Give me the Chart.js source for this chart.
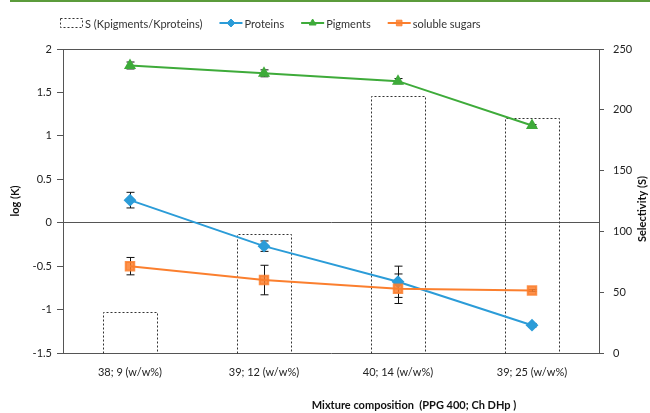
<!DOCTYPE html>
<html>
<head>
<meta charset="utf-8">
<script src="https://cdn.jsdelivr.net/npm/chart.js@4.4.1/dist/chart.umd.min.js"></script>
<style>
  html, body { margin: 0; padding: 0; background: #fff; }
  #wrap { position: relative; width: 650px; height: 413px; }
  #topline { position: absolute; left: 10px; top: 0; width: 640px; height: 2px; background: #5b9b3b; }
</style>
</head>
<body>
<div id="wrap">
  <div id="topline"></div>
  <canvas id="chart" width="650" height="413"></canvas>
</div>
<script>
const categories = ['38; 9 (w/w%)', '39; 12 (w/w%)', '40; 14 (w/w%)', '39; 25 (w/w%)'];

const selectivity = [34, 98, 211, 193];

const proteins = [0.26, -0.27, -0.68, -1.18];
const proteinsErr = [0.09, 0.06, 0.18, 0.02];

const pigments = [1.81, 1.72, 1.63, 1.12];
const pigmentsErr = [0.04, 0.04, 0.03, 0.01];

const sugars = [-0.5, -0.66, -0.76, -0.78];
const sugarsErr = [0.1, 0.17, 0.17, 0.01];

const logTicks = [2, 1.5, 1, 0.5, 0, -0.5, -1, -1.5];
const selTicks = [0, 50, 100, 150, 200, 250];

const FONT = 'Lato, "Open Sans", sans-serif';
const AXIS = '#555';
const BLUE = '#2b9cd8';
const GREEN = '#3eab3a';
const ORANGE = '#fb7f2e';

const errors = [null, proteinsErr, pigmentsErr, sugarsErr];

// error bars drawn before the lines so the markers sit on top
const errorBars = {
  id: 'errorBars',
  beforeDatasetsDraw(chart) {
    const ctx = chart.ctx;
    const y = chart.scales.y;
    ctx.save();
    ctx.strokeStyle = '#111';
    ctx.lineWidth = 1;
    chart.data.datasets.forEach((ds, di) => {
      const err = errors[di];
      if (!err) return;
      const meta = chart.getDatasetMeta(di);
      meta.data.forEach((pt, i) => {
        const x = Math.round(pt.x) + 0.5;
        const top = y.getPixelForValue(ds.data[i] + err[i]);
        const bot = y.getPixelForValue(ds.data[i] - err[i]);
        ctx.beginPath();
        ctx.moveTo(x, top); ctx.lineTo(x, bot);
        ctx.moveTo(x - 4, top); ctx.lineTo(x + 4, top);
        ctx.moveTo(x - 4, bot); ctx.lineTo(x + 4, bot);
        ctx.stroke();
      });
    });
    ctx.restore();
  }
};

// dashed outline for the selectivity bars, plus the frame, titles and legend
const decorations = {
  id: 'decorations',
  afterDatasetDraw(chart, args) {
    if (args.index !== 0) return;
    const ctx = chart.ctx;
    ctx.save();
    ctx.strokeStyle = '#333';
    ctx.lineWidth = 1;
    ctx.setLineDash([2, 2]);
    args.meta.data.forEach(bar => {
      const l = Math.round(bar.x - bar.width / 2) + 0.5;
      const r = Math.round(bar.x + bar.width / 2) + 0.5;
      const t = Math.round(bar.y) + 0.5;
      const b = Math.round(bar.base) + 0.5;
      ctx.beginPath();
      ctx.moveTo(l, b); ctx.lineTo(l, t); ctx.lineTo(r, t); ctx.lineTo(r, b);
      ctx.stroke();
    });
    ctx.restore();
  },
  afterDraw(chart) {
    const ctx = chart.ctx;
    const a = chart.chartArea;
    ctx.save();
    ctx.strokeStyle = AXIS;
    ctx.lineWidth = 1;
    ctx.beginPath();
    ctx.moveTo(a.left, Math.round(a.top) + 0.5);
    ctx.lineTo(a.right, Math.round(a.top) + 0.5);
    ctx.stroke();

    ctx.fillStyle = '#111';
    ctx.font = 'bold 11px ' + FONT;
    ctx.textAlign = 'center';
    ctx.textBaseline = 'middle';
    ctx.save();
    ctx.translate(15, (a.top + a.bottom) / 2);
    ctx.rotate(-Math.PI / 2);
    ctx.fillText('log (K)', 0, 0);
    ctx.restore();
    ctx.save();
    ctx.translate(642, (a.top + a.bottom) / 2 + 8);
    ctx.rotate(-Math.PI / 2);
    ctx.fillText('Selectivity (S)', 0, 0);
    ctx.restore();
    ctx.fillText('Mixture composition  (PPG 400; Ch DHp )', 414, 405);

    // legend
    ctx.font = '11px ' + FONT;
    ctx.textAlign = 'left';
    ctx.fillStyle = '#333';
    const ly = 23;
    let x = 60;
    chart.data.datasets.forEach((ds, di) => {
      ctx.save();
      if (di === 0) {
        ctx.strokeStyle = '#333';
        ctx.setLineDash([2, 2]);
        ctx.strokeRect(x + 0.5, ly - 4.5, 22, 9);
      } else {
        ctx.strokeStyle = ds.borderColor;
        ctx.lineWidth = 2;
        ctx.beginPath();
        ctx.moveTo(x, ly); ctx.lineTo(x + 23, ly);
        ctx.stroke();
        ctx.fillStyle = ds.pointBackgroundColor;
        ctx.strokeStyle = ds.pointBackgroundColor;
        ctx.lineWidth = 1;
        Chart.helpers.drawPoint(ctx, { pointStyle: ds.pointStyle, radius: 4, borderWidth: 1 }, x + 11.5, ly);
      }
      ctx.restore();
      ctx.fillText(ds.label, x + 25, ly + 1);
      x += 25 + ctx.measureText(ds.label).width + 17;
    });
    ctx.restore();
  }
};

new Chart(document.getElementById('chart'), {
  type: 'bar',
  data: {
    labels: categories,
    datasets: [
      {
        label: 'S (Kpigments/Kproteins)',
        data: selectivity,
        yAxisID: 'y2',
        backgroundColor: 'rgba(0,0,0,0)',
        borderWidth: 0,
        categoryPercentage: 1,
        barPercentage: 0.4,
        order: 10
      },
      {
        type: 'line',
        label: 'Proteins',
        data: proteins,
        yAxisID: 'y',
        borderColor: BLUE,
        backgroundColor: BLUE,
        pointBackgroundColor: BLUE,
        pointBorderColor: BLUE,
        pointStyle: 'rectRot',
        pointRadius: 5,
        borderWidth: 2,
        order: 3
      },
      {
        type: 'line',
        label: 'Pigments',
        data: pigments,
        yAxisID: 'y',
        borderColor: GREEN,
        backgroundColor: GREEN,
        pointBackgroundColor: GREEN,
        pointBorderColor: GREEN,
        pointStyle: 'triangle',
        pointRadius: 5,
        borderWidth: 2,
        order: 2
      },
      {
        type: 'line',
        label: 'soluble sugars',
        data: sugars,
        yAxisID: 'y',
        borderColor: ORANGE,
        backgroundColor: ORANGE,
        pointBackgroundColor: 'rgba(251,127,46,0.85)',
        pointBorderColor: 'rgba(251,127,46,0.85)',
        pointStyle: 'rect',
        pointRadius: 6,
        borderWidth: 2,
        order: 1
      }
    ]
  },
  options: {
    responsive: false,
    animation: false,
    layout: { padding: { top: 49, left: 0, right: 0, bottom: 0 } },
    plugins: {
      legend: { display: false },
      tooltip: { enabled: false }
    },
    scales: {
      x: {
        offset: true,
        grid: { display: false, drawTicks: false },
        border: { display: true, color: AXIS, width: 1 },
        ticks: { color: '#222', font: { family: FONT, size: 11 }, padding: 13, maxRotation: 0 },
        afterFit(s) { s.height = 60; }
      },
      y: {
        position: 'left',
        min: -1.5,
        max: 2,
        afterBuildTicks(s) { s.ticks = logTicks.map(v => ({ value: v })); },
        grid: {
          color: c => c.tick && c.tick.value === 0 ? AXIS : 'rgba(0,0,0,0)',
          tickColor: AXIS,
          tickLength: 6
        },
        border: { display: true, color: AXIS, width: 1 },
        ticks: {
          color: '#222',
          font: { family: FONT, size: 11 },
          padding: 5,
          callback: v => String(v)
        },
        afterFit(s) { s.width = 63; }
      },
      y2: {
        position: 'right',
        min: 0,
        max: 250,
        afterBuildTicks(s) { s.ticks = selTicks.map(v => ({ value: v })); },
        grid: { drawOnChartArea: false, tickColor: AXIS, tickLength: 5 },
        border: { display: true, color: AXIS, width: 1 },
        ticks: { color: '#222', font: { family: FONT, size: 11 }, padding: 9 },
        afterFit(s) { s.width = 51; }
      }
    }
  },
  plugins: [errorBars, decorations]
});
</script>
</body>
</html>
